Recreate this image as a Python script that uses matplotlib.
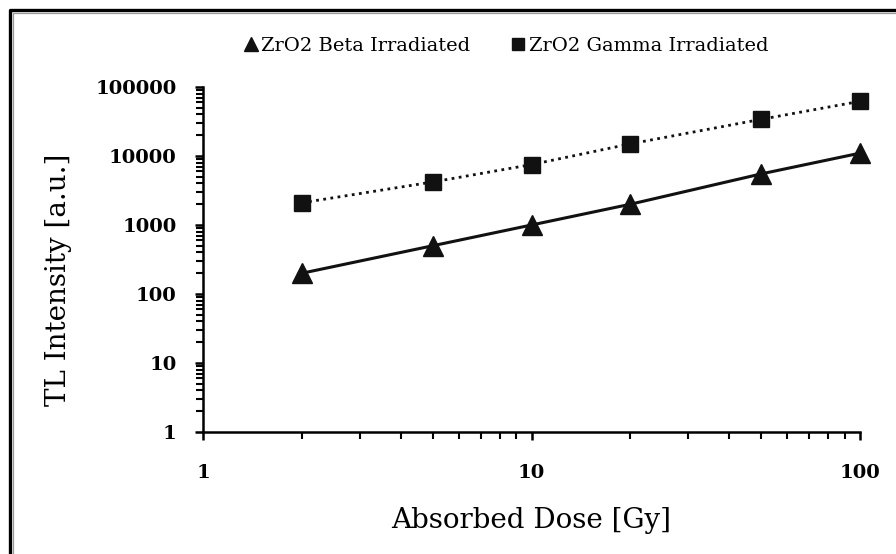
#!/usr/bin/env python3
import matplotlib
matplotlib.use('Agg')
import matplotlib.pyplot as plt
from matplotlib.lines import Line2D
from matplotlib.ticker import FixedLocator, LogLocator, NullFormatter

# absorbed dose (Gy) and TL intensity
dose = [2, 5, 10, 20, 50, 100]
beta_tl = [200, 500, 1000, 2000, 5500, 11000]
gamma_tl = [2100, 4200, 7500, 15000, 34000, 62000]

x_ticks = [1, 10, 100]
y_ticks = [1, 10, 100, 1000, 10000, 100000]

plt.rcParams['font.family'] = ['DejaVu Serif', 'Liberation Serif']

W, H = 896, 554


def main():
  fig = plt.figure(figsize=(W / 100, H / 100), dpi=100)
  ax = fig.add_axes([203 / W, 1 - 432 / H, (860 - 203) / W, (432 - 87) / H])

  ax.plot(dose, beta_tl, color='#111111', linestyle='-', linewidth=2.2,
          marker='^', markersize=14, label='ZrO2 Beta Irradiated', clip_on=False)
  ax.plot(dose, gamma_tl, color='#111111', linestyle=(0, (1, 1.6)), linewidth=2.0,
          marker='s', markersize=12, label='ZrO2 Gamma Irradiated', clip_on=False)

  ax.set_xscale('log')
  ax.set_yscale('log')
  ax.set_xlim(1, 100)
  ax.set_ylim(1, 100000)

  ax.xaxis.set_major_locator(FixedLocator(x_ticks))
  ax.yaxis.set_major_locator(FixedLocator(y_ticks))
  ax.set_xticklabels([str(v) for v in x_ticks])
  ax.set_yticklabels([str(v) for v in y_ticks])
  ax.xaxis.set_minor_locator(LogLocator(base=10, subs=range(2, 10)))
  ax.yaxis.set_minor_locator(LogLocator(base=10, subs=range(2, 10), numticks=20))
  ax.xaxis.set_minor_formatter(NullFormatter())
  ax.yaxis.set_minor_formatter(NullFormatter())

  for side in ('top', 'right'):
    ax.spines[side].set_visible(False)
  for side in ('left', 'bottom'):
    ax.spines[side].set_linewidth(1.8)

  ax.tick_params(axis='both', which='major', direction='out', length=6, width=1.8,
                 labelsize=14)
  ax.tick_params(axis='y', which='major', pad=13)
  ax.tick_params(axis='x', which='major', pad=17)
  ax.tick_params(axis='both', which='minor', direction='out', length=5, width=1.5)
  for lbl in ax.get_xticklabels() + ax.get_yticklabels():
    lbl.set_fontweight('bold')

  ax.set_xlabel('Absorbed Dose [Gy]', fontsize=20, labelpad=18)
  ax.set_ylabel('TL Intensity [a.u.]', fontsize=20)
  ax.yaxis.set_label_coords(-0.2, 0.44)

  fig.legend(loc='center', bbox_to_anchor=(507 / W, 1 - 46 / H), ncol=2, frameon=False,
             fontsize=14, handlelength=0.5, handletextpad=0.3, columnspacing=2.2,
             markerscale=0.75)
  for h in fig.legends[0].legend_handles:
    h.set_linestyle('None')

  # outer frame around the picture: thick black line with a thin grey one inside
  fig.lines.append(Line2D([9.5 / W, 9.5 / W, 1.0], [0.0, 1 - 9.5 / H, 1 - 9.5 / H],
                          transform=fig.transFigure, color='black', linewidth=2.4))
  fig.lines.append(Line2D([12.5 / W, 12.5 / W, 1.0], [0.0, 1 - 12.5 / H, 1 - 12.5 / H],
                          transform=fig.transFigure, color='#999999', linewidth=0.9))

  fig.savefig('out.png', dpi=100)


if __name__ == '__main__':
  main()
